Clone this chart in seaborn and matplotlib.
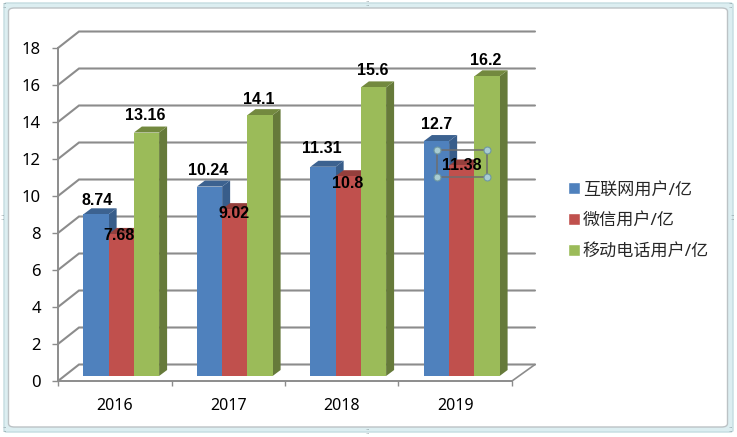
import numpy as np
import pandas as pd
import matplotlib
matplotlib.use('Agg')
import matplotlib.pyplot as plt
import matplotlib.transforms as mtrans
from matplotlib.patches import Polygon, Rectangle, FancyBboxPatch
import seaborn as sns

years = ['2016', '2017', '2018', '2019']
internet = [8.74, 10.24, 11.31, 12.7]
wechat = [7.68, 9.02, 10.8, 11.38]
mobile = [13.16, 14.1, 15.6, 16.2]
series_names = ['互联网用户/亿', '微信用户/亿', '移动电话用户/亿']
y_ticks = [0, 2, 4, 6, 8, 10, 12, 14, 16, 18]

front_colors = ['#4F81BD', '#C0504D', '#9BBB59']
side_colors = ['#385D8A', '#8C3A38', '#667A3A']
top_colors = ['#3C6290', '#953F3C', '#73893F']
# label offset from bar top in pixels, one row per series
label_dx = [[1, -1, -1, 0], [-2, -1, -1, 0], [-1, -1, -1, -1]]
label_dy = [[14, 16, 18, 17], [-2, -4, -7, 0], [17, 16, 17, 16]]

sns.set_style('white')
plt.rcParams['font.family'] = ['Noto Sans', 'Noto Sans CJK SC']

W, H = 737, 437
fig = plt.figure(figsize=(W / 100, H / 100), dpi=100)

def fx(x):
    return x / W

def fy(y):
    return 1 - y / H

# window frame round the chart object, kept under the axes
fig.add_artist(FancyBboxPatch((fx(4), fy(432)), fx(729), 429 / H, boxstyle='round,pad=0,rounding_size=0.004',
                              transform=fig.transFigure, fc='#DCEEF1', ec='#C4DCE0', lw=1, zorder=-3))
fig.add_artist(FancyBboxPatch((fx(8.5), fy(427)), fx(719), 419 / H, boxstyle='round,pad=0,rounding_size=0.008',
                              transform=fig.transFigure, fc='white', ec='#BCC2C5', lw=1, zorder=-2))
for hx, hy in [(5, 5), (368, 3), (731, 5), (3, 218), (733, 218), (5, 429), (368, 431), (731, 429)]:
    fig.text(fx(hx), fy(hy), '::', fontsize=6, color='#7F8F95', ha='center', va='center', zorder=-1)

ax = fig.add_axes([fx(58), fy(381), 454 / W, 333 / H])
ax.patch.set_alpha(0)

df = pd.DataFrame({
    'year': years * 3,
    'value': internet + wechat + mobile,
    'series': np.repeat(series_names, 4),
})
sns.barplot(data=df, x='year', y='value', hue='series', palette=front_colors,
            width=0.667, saturation=1, gap=0, ax=ax)

ax.set_xlim(-0.5, 3.5)
ax.set_ylim(0, 18)
ax.set_yticks(y_ticks)
ax.set_xlabel('')
ax.set_ylabel('')
sns.despine(ax=ax)
for side in ['left', 'bottom']:
    ax.spines[side].set_color('#8C8C8C')
    ax.spines[side].set_linewidth(1.4)
ax.tick_params(axis='y', left=True, length=4.3, width=1, color='#8C8C8C', pad=8, labelsize=12, labelcolor='black')
ax.set_xticks([-0.5, 0.5, 1.5, 2.5, 3.5], minor=True)
ax.tick_params(axis='x', which='major', bottom=False, pad=9, labelsize=11.5, labelcolor='black')
ax.tick_params(axis='x', which='minor', bottom=True, length=3.6, width=1, color='#8C8C8C')

# pixels to data units
ux = 454 / 4
uy = 333 / 18
wall_dx, wall_dy = 21 / ux, 16.5 / uy

# back wall and floor
for t in y_ticks:
    ax.plot([-0.5, -0.5 + wall_dx, 3.5 + 23 / ux], [t, t + wall_dy, t + wall_dy],
            color='#8C8C8C', lw=1.5, clip_on=False, zorder=1, solid_joinstyle='miter')
ax.plot([3.5, 3.5 + 23 / ux], [0, wall_dy], color='#8C8C8C', lw=1.2, clip_on=False, zorder=1)

# bars sit a little behind the front plane
bar_shift = mtrans.ScaledTranslation(6.5 / 100, 5 / 100, fig.dpi_scale_trans)
bar_trans = ax.transData + bar_shift
deep_x, deep_y = 8 / ux, 6 / uy

for i, container in enumerate(ax.containers):
    for j, bar in enumerate(container):
        x0 = bar.get_x()
        w = bar.get_width()
        h = bar.get_height()
        bar.set_transform(bar_trans)
        bar.set_clip_on(False)
        bar.set_zorder(3 + i)
        bar.set_edgecolor('none')
        side = Polygon([(x0 + w, 0), (x0 + w + deep_x, deep_y), (x0 + w + deep_x, h + deep_y), (x0 + w, h)],
                       fc=side_colors[i], ec='none', transform=bar_trans, clip_on=False, zorder=2.8 + i)
        top = Polygon([(x0, h), (x0 + deep_x, h + deep_y), (x0 + w + deep_x, h + deep_y), (x0 + w, h)],
                      fc=top_colors[i], ec='none', transform=bar_trans, clip_on=False, zorder=2.9 + i)
        ax.add_patch(side)
        ax.add_patch(top)
        ax.annotate(f'{h:g}', (x0 + w / 2, h), xycoords=bar_trans,
                    xytext=(label_dx[i][j], label_dy[i][j]), textcoords='offset pixels',
                    ha='center', va='center', fontsize=11.5, fontweight='bold', color='black',
                    family='Liberation Sans', zorder=12, annotation_clip=False)

# selection box left on the 11.38 label
fig.add_artist(Rectangle((fx(437), fy(177)), 50 / W, 27 / H, transform=fig.transFigure,
                         fc='none', ec='#6E6E6E', lw=1.1, zorder=4))
for cx, cy in [(437, 150), (487, 150), (437, 177), (487, 177)]:
    fig.add_artist(plt.Line2D([fx(cx)], [fy(cy)], transform=fig.transFigure, marker='o', ms=5,
                              mfc='#A9CDD3', mec='#6F98A3', mew=0.8, ls='none', zorder=5))

# legend squares and text come from the hue legend
sns.move_legend(ax, loc='center left', bbox_to_anchor=(fx(559), fy(221)), bbox_transform=fig.transFigure,
                title=None, frameon=False, fontsize=12.3, labelspacing=0.86,
                handlelength=0.7, handleheight=0.7, handletextpad=0.2, borderpad=0)

fig.savefig('out.png', dpi=100)
